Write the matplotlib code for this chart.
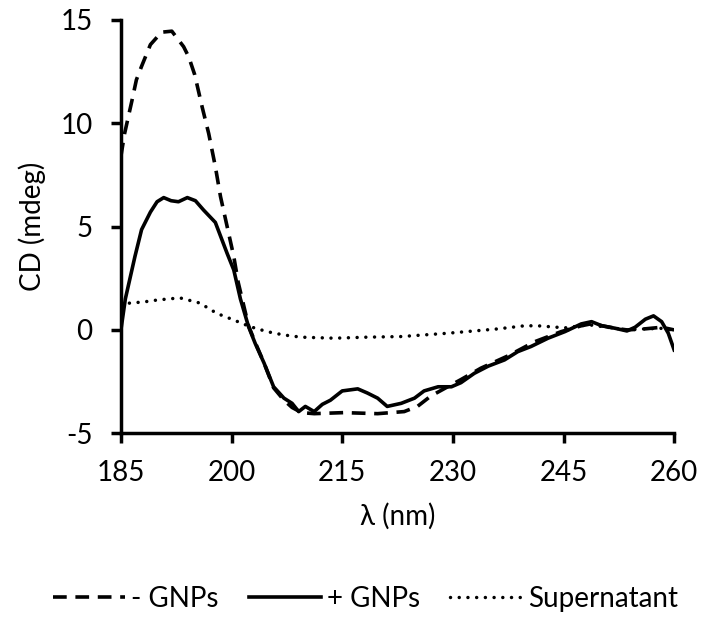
import matplotlib.pyplot as plt

# --- data ---
wl_minus = [185, 185.5, 186.5, 187.1, 187.8, 189, 190.5, 191.9, 193.5, 194.2, 195, 196,
            196.9, 197.8, 198.5, 199.4, 200.3, 200.9, 202.3, 203.2, 204.4, 205.7, 207.1,
            208.2, 209.5, 211.2, 215.2, 219.8, 223.4, 225.2, 227, 229.3, 231.1, 233.8,
            237.5, 241.1, 244.7, 247.4, 248.8, 252, 253.6, 256, 258.3, 260]
cd_minus = [8.4, 9.5, 11.1, 12.1, 12.75, 13.8, 14.4, 14.45, 13.7, 13.2, 12.35, 10.8,
            9.5, 7.9, 6.45, 5.0, 3.55, 2.3, 0.2, -0.6, -1.6, -2.8, -3.4,
            -3.75, -4.0, -4.05, -4.0, -4.05, -3.95, -3.7, -3.2, -2.75, -2.4, -1.85,
            -1.25, -0.57, -0.08, 0.2, 0.3, 0.08, 0.0, 0.05, 0.13, 0.0]

wl_plus = [185, 185.6, 186.9, 187.8, 189, 189.9, 190.8, 191.8, 192.8, 194, 195.1, 196.2,
           197.8, 199.4, 200.3, 201.2, 202.3, 203.2, 204.4, 205.7, 207.1, 208.2, 209.1,
           210, 211.2, 212.3, 213.4, 215, 217.1, 218.4, 219.8, 221.1, 223, 224.8, 226.1,
           228, 229.8, 231.1, 232.9, 234.8, 237, 238.8, 240.6, 242.9, 245.2, 247.4,
           248.8, 250.2, 252, 253.6, 254.7, 256.1, 257.2, 258.3, 259.2, 260]
cd_plus = [0, 1.5, 3.55, 4.85, 5.7, 6.2, 6.4, 6.25, 6.2, 6.4, 6.25, 5.8,
           5.2, 3.7, 2.9, 1.5, 0.16, -0.65, -1.6, -2.75, -3.3, -3.55, -3.95,
           -3.7, -3.95, -3.6, -3.4, -2.95, -2.85, -3.05, -3.3, -3.7, -3.55, -3.3, -2.95,
           -2.75, -2.75, -2.55, -2.1, -1.75, -1.45, -1.05, -0.8, -0.4, -0.08, 0.29,
           0.4, 0.2, 0.08, -0.05, 0.13, 0.52, 0.68, 0.4, -0.16, -0.97]

wl_super = [185, 186.2, 188, 190, 193, 195.7, 198, 200.3, 202.5, 204.8, 207, 209.4,
            213.9, 218.4, 223, 229.3, 236.1, 239.7, 241.5, 245.2, 248.4, 252, 253.6,
            256, 258.6, 260]
cd_super = [1.2, 1.3, 1.35, 1.45, 1.55, 1.3, 0.8, 0.48, 0.16, -0.08, -0.24, -0.35,
            -0.4, -0.35, -0.32, -0.16, 0.05, 0.2, 0.2, 0.1, 0.25, 0.08, 0.0,
            0.05, 0.08, -0.05]

x_ticks = [185, 200, 215, 230, 245, 260]
y_ticks = [-5, 0, 5, 10, 15]

plt.rcParams['font.family'] = ['Lato', 'DejaVu Sans']
plt.rcParams['font.size'] = 20
plt.rcParams['axes.unicode_minus'] = False

fig = plt.figure(figsize=(7.03, 6.19), dpi=100)
ax = fig.add_axes([0.172, 0.300, 0.787, 0.668])

ax.plot(wl_minus, cd_minus, color='black', lw=2.6, linestyle=(0, (3.8, 2.4)),
        label='- GNPs')
ax.plot(wl_plus, cd_plus, color='black', lw=2.6, label='+ GNPs')
ax.plot(wl_super, cd_super, color='black', lw=2.5, linestyle=(0, (0.01, 2.5)),
        dash_capstyle='round', label='Supernatant')

ax.set_xlim(185, 260)
ax.set_ylim(-5, 15)
ax.set_xticks(x_ticks)
ax.set_yticks(y_ticks)
ax.set_xlabel('λ (nm)', labelpad=12)
ax.set_ylabel('CD (mdeg)', labelpad=10)

for side in ['top', 'right']:
    ax.spines[side].set_visible(False)
for side in ['left', 'bottom']:
    ax.spines[side].set_linewidth(2.5)
ax.tick_params(width=2.5, length=7.5, direction='out')
ax.tick_params(axis='x', pad=12)
ax.tick_params(axis='y', pad=13)

fig.legend(loc='center', bbox_to_anchor=(0.52, 0.032), ncol=3, frameon=False,
           handlelength=2.6, handletextpad=0.2, columnspacing=1.1)

fig.savefig('out.png', dpi=100)
